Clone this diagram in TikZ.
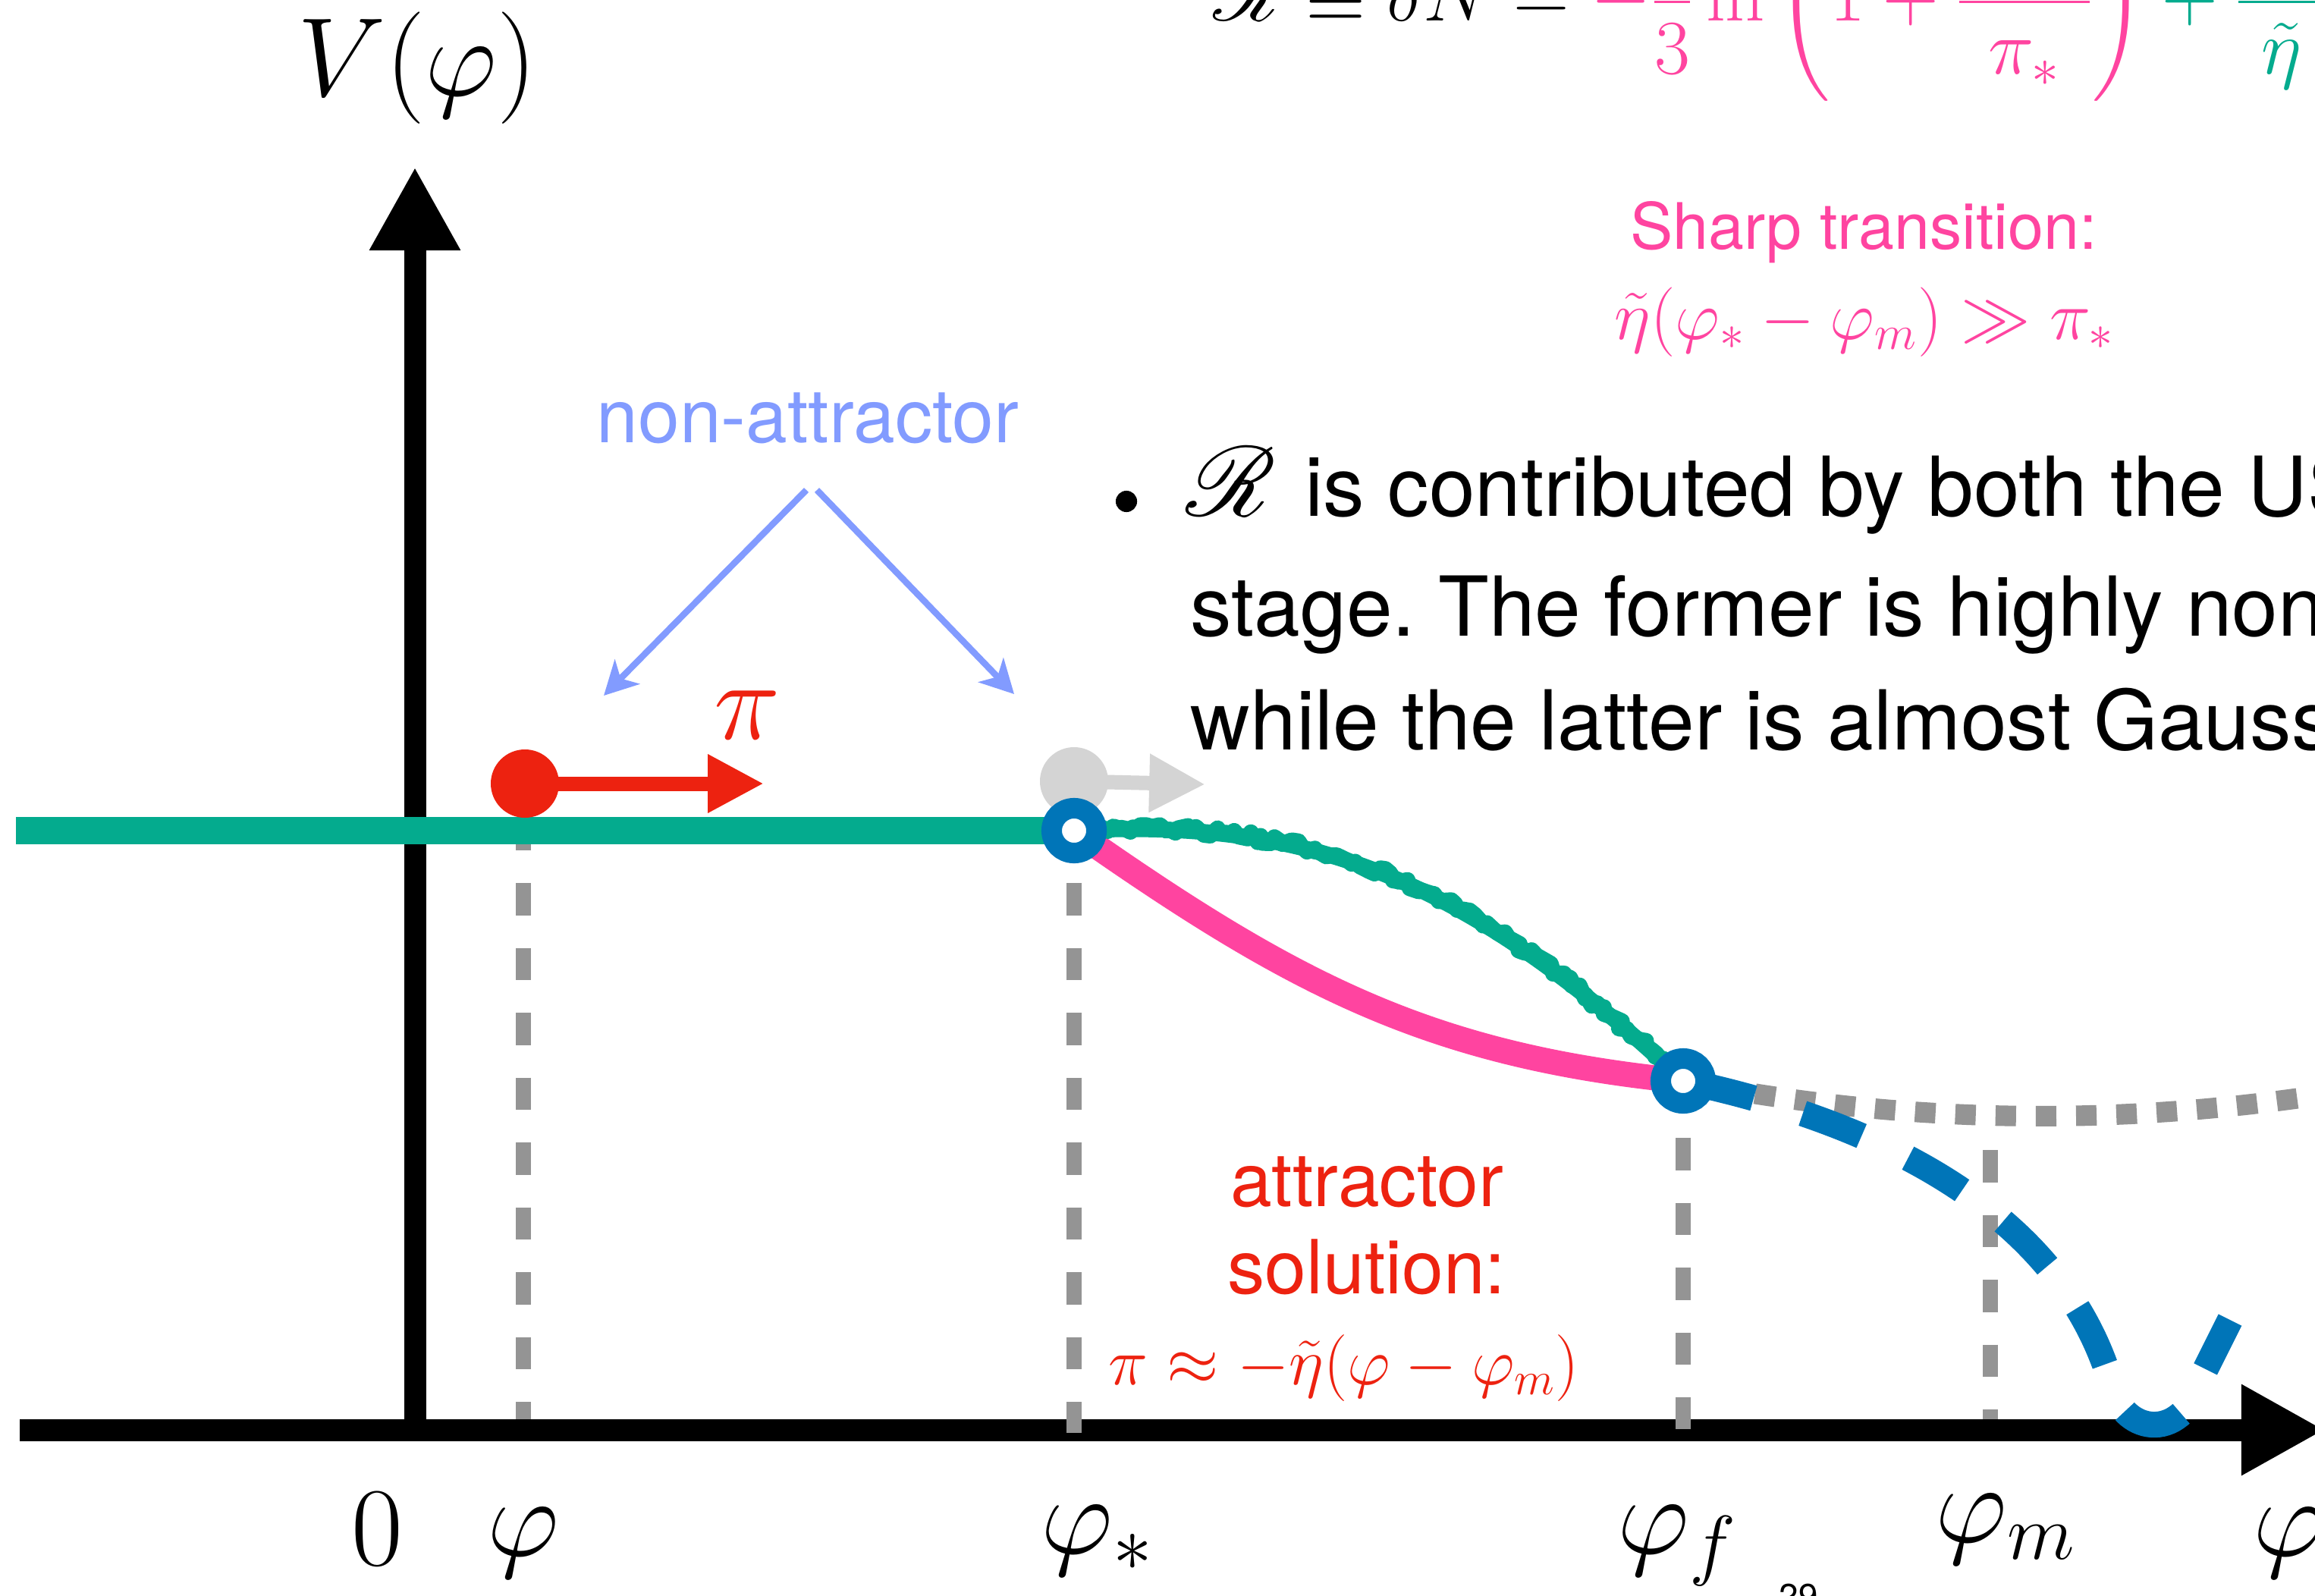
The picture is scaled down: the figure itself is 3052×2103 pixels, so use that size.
\documentclass[tikz,border=0pt]{standalone}
\usepackage{fix-cm}
\usepackage{amsmath}
\usepackage{mathrsfs}
\DeclareFontFamily{U}{rsfs}{\skewchar\font127 }
\DeclareFontShape{U}{rsfs}{m}{n}{<-6> rsfs5 <6-8> rsfs7 <8-> rsfs10}{}
\usepackage[no-math]{fontspec}
\setmainfont{TeX Gyre Heros}
\usepackage{xcolor}
\usepackage{tikz}
\usetikzlibrary{
  arrows.meta,
  positioning,
  decorations.pathmorphing,
  calc
}
\definecolor{CurveTeal}{RGB}{4,171,142}
\definecolor{CurvePink}{RGB}{255,68,160}
\definecolor{RingBlue}{RGB}{0,117,184}
\definecolor{BallRed}{RGB}{237,34,16}
\definecolor{NonAttr}{RGB}{130,155,255}
\definecolor{DashGray}{RGB}{148,148,148}
\definecolor{GhostGray}{RGB}{212,212,212}
\frenchspacing
\tikzset{
  %%-- axes and guide lines ------------------------------------
  axisline/.style = {line width = 8.25pt, -{Triangle[length = 31.3pt, width = 31.9pt]}},
  vguide/.style   = {DashGray, line width = 5.7pt, dash pattern = on 12.09pt off 12.23pt},
  dotguide/.style = {DashGray, line width = 7.7pt,
    dash pattern = on 7.7pt off 7.4pt, dash phase = 2.85pt},
  %%-- trajectories ---------------------------------------------
  plateau/.style    = {CurveTeal, line width = 10.5pt},
  usrcurve/.style   = {CurvePink, line width = 9.4pt},
  roughcore/.style  = {CurveTeal, line width = 6pt},
  roughcurve/.style = {CurveTeal, line width = 6pt, line join = round,
    decorate, decoration = {random steps, segment length = 2pt, amplitude = 1.6pt}},
  srcurve/.style    = {RingBlue, line width = 9.7pt,
    dash pattern = on 23.6pt off 19.3pt, dash phase = 39.3pt},
  ringnode/.style   = {circle, draw = RingBlue, fill = white, line width = 7.7pt,
    minimum size = 16.8pt, inner sep = 0pt},
  fieldball/.style  = {circle, minimum size = 25.6pt, inner sep = 0pt},
  kick/.style       = {line width = 5.4pt, -{Triangle[length = 21pt, width = 20.5pt]}},
  naarr/.style      = {NonAttr, line width = 2.4pt,
    -{Stealth[length = 12.5pt, width = 13pt, inset = 3.5pt]}},
  %%-- labels ---------------------------------------------------
  axlbl/.style   = {inner sep = 0pt, font = \fontsize{42}{50}\selectfont},
  natxt/.style   = {inner sep = 0pt, text = NonAttr, font = \fontsize{28}{33}\selectfont},
  bodytxt/.style = {inner sep = 0pt, font = \fontsize{31}{37}\selectfont},
  sharptxt/.style= {inner sep = 0pt, text = CurvePink, font = \fontsize{24}{29}\selectfont},
  sharpeq/.style = {inner sep = 0pt, text = CurvePink, font = \fontsize{26}{31}\selectfont},
  attrtxt/.style = {inner sep = 0pt, text = BallRed, font = \fontsize{28}{33}\selectfont},
  attreq/.style  = {inner sep = 0pt, text = BallRed, font = \fontsize{25}{30}\selectfont},
  topeq/.style   = {inner sep = 0pt, font = \fontsize{29}{35}\selectfont},
}
\newcommand{\bigR}{{\fontsize{37}{44}\selectfont$\mathscr{R}$}}
\begin{document}
\begin{tikzpicture}[x = 0.01cm, y = -0.01cm]
  \useasboundingbox (0,0) rectangle (3052,2103);
  \fill[white] (0,0) rectangle (3052,2103);
  \clip (0,0) rectangle (3052,2103);

  %% -- key points ---------------------------------------------
  \coordinate (pstar) at (1416,1095);
  \coordinate (pf)    at (2219,1425);

  %% -- axes ---------------------------------------------------
  \coordinate (xstart) at (26,1885);
  \coordinate (xend)   at (3065,1885);
  \coordinate (ybot)   at (547,1885);
  \coordinate (ytop)   at (547,220);
  \draw[axisline] (xstart) -- (xend);
  \draw[axisline] (ybot)   -- (ytop);

  %% -- vertical guides ----------------------------------------
  \coordinate (gphiA)  at (690,1078.5);  \coordinate (gphiB)  at (690,1871);
  \coordinate (gstarA) at (1416,1078.5); \coordinate (gstarB) at (1416,1889);
  \coordinate (gfA)    at (2219,1414.5); \coordinate (gfB)    at (2219,1884);
  \coordinate (gmA)    at (2624,1516);   \coordinate (gmB)    at (2624,1871);
  \draw[vguide] (gphiA)  -- (gphiB);
  \draw[vguide] (gstarA) -- (gstarB);
  \draw[vguide] (gfA)    -- (gfB);
  \draw[vguide] (gmA)    -- (gmB);

  %% -- plateau ------------------------------------------------
  \coordinate (plstart) at (21,1095);
  \draw[plateau] (plstart) -- (pstar);

  %% -- balls with their velocity ------------------------------
  \node[fieldball, fill = GhostGray] (ghost) at (1416,1030) {};
  \coordinate (ghosttip) at (1589,1034);
  \draw[kick, GhostGray] (ghost.center) -- (ghosttip);
  \node[fieldball, fill = BallRed] (redball) at (692,1033) {};
  \coordinate (redtip) at (1007,1033);
  \draw[kick, BallRed] (redball.center) -- (redtip);

  %% -- curves between the rings -------------------------------
  \coordinate (dotend) at (3141,1430);
  \draw[dotguide] (pf) .. controls (2526,1486) and (2834,1486) .. (dotend);
  \draw[usrcurve] (pstar) .. controls (1704,1297) and (1884,1392) .. (pf);
  \pgfmathsetseed{7}
  \draw[roughcore]  (pstar) .. controls (1713,1080) and (1922,1145) .. (pf);
  \draw[roughcurve] (pstar) .. controls (1713,1078) and (1922,1143) .. (pf);
  \coordinate (blueend) at (2940,1740);
  \draw[srcurve] (pf) .. controls (2480,1480) and (2720,1600) .. (2785,1830)
                      .. controls (2800,1890) and (2880,1905) .. (2905,1810)
                      -- (blueend);

  %% -- rings --------------------------------------------------
  \node[ringnode] (ringstar) at (pstar) {};
  \node[ringnode] (ringf)    at (pf)    {};

  %% -- axis labels --------------------------------------------
  \node[axlbl, anchor = base] (vlab) at (550,127) {$V(\varphi)$};
  \node[axlbl, anchor = base] (zero) at (497,2063) {$0$};
  \node[axlbl, anchor = base] (philab) at (690,2051) {$\varphi$};
  \node[axlbl, anchor = base west] (philstar) at (1372,2048) {$\varphi_*$};
  \node[axlbl, anchor = base west] (philf) at (2132,2048) {$\varphi_f$};
  \node[axlbl, anchor = base west] (philm) at (2551,2033) {$\varphi_m$};
  \node[axlbl, anchor = base west] (philx) at (2970,2051) {$\varphi$};
  \node[axlbl, anchor = base, text = BallRed] (pilab) at (985,974) {$\pi$};

  %% -- non-attractor ------------------------------------------
  \node[natxt, anchor = base] (nonattr) at (1065,583) {non-attractor};
  \coordinate (apexL) at (1063,646);
  \coordinate (apexR) at (1077,646);
  \coordinate (tipL)  at (796,917);
  \coordinate (tipR)  at (1337,915);
  \draw[naarr] (apexL) -- (tipL);
  \draw[naarr] (apexR) -- (tipR);

  %% -- attractor ----------------------------------------------
  \node[attrtxt, anchor = base] (attr1) at (1802,1590) {attractor};
  \node[attrtxt, anchor = base] (attr2) at (1802,1705) {solution:};
  \node[attreq, anchor = base] (attreq) at (1772,1825)
    {$\pi\approx-\tilde\eta(\varphi-\varphi_m)$};

  %% -- sharp transition ---------------------------------------
  \node[sharptxt, anchor = base] (sharp) at (2457,328) {Sharp transition:};
  \node[sharpeq, anchor = base] (sharpcond) at (2458,447)
    {$\tilde\eta(\varphi_*-\varphi_m)\gg\pi_*$};

  %% -- bullet text --------------------------------------------
  \node[circle, fill = black, minimum size = 8pt, inner sep = 0pt] (bullet) at (1485,661) {};
  \node[bodytxt, anchor = base west] (line1) at (1563,680)
    {\bigR\hspace{0.35em}is contributed by both the USR};
  \node[bodytxt, anchor = base west] (line2) at (1569,838)
    {stage. The former is highly non-Gaussian,};
  \node[bodytxt, anchor = base west] (line3) at (1569,988)
    {while the latter is almost Gaussian.};

  %% -- top formula (cut by the frame) -------------------------
  \node[topeq, anchor = base west] (rdef) at (1599,28)
    {$\displaystyle \mathscr{R}\equiv\delta N=\color{CurvePink}-\frac{2}{3}\ln\left(1+\frac{3\,\delta\pi}{\pi_*}\right)\color{CurveTeal}+\frac{\delta\varphi}{\tilde\eta}$};

  %% -- page number --------------------------------------------
  \node[anchor = north west, inner sep = 0pt, font = \fontsize{13}{15}\selectfont] (pagenum)
    at (2345,2087) {29};

\end{tikzpicture}
\end{document}
